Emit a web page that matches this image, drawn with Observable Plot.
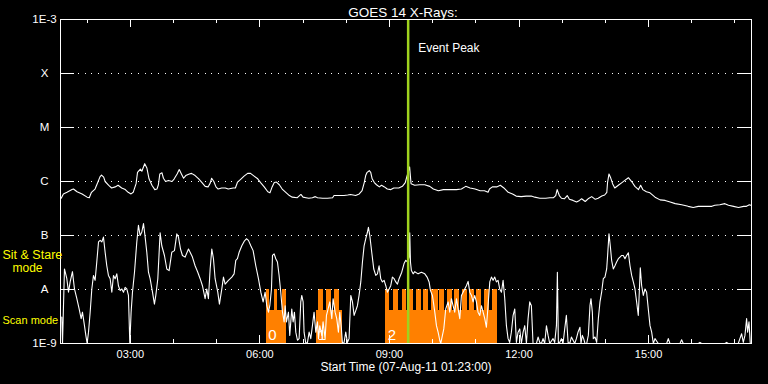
<!DOCTYPE html>
<html><head><meta charset="utf-8">
<script src="https://cdn.jsdelivr.net/npm/d3@7"></script>
<script src="https://cdn.jsdelivr.net/npm/@observablehq/plot@0.6"></script>
<style>
html,body{margin:0;padding:0;background:#000;}
#chart svg{display:block;}
</style></head><body><div id="chart"></div>
<script>
// ---- data ----
const title = "GOES 14 X-Rays:";
const xLabel = "Start Time (07-Aug-11 01:23:00)";
const startTime = "2011-08-07T01:23:00Z";
const endTime = "2011-08-07T17:23:00Z";
const peakTime = "2011-08-07T09:26:00Z";
const peakLabel = "Event Peak";
const classLabels = ["1E-9", "A", "B", "C", "M", "X", "1E-3"];
const classFlux = [1e-9, 1e-8, 1e-7, 1e-6, 1e-5, 1e-4, 1e-3];

// long channel (1-8 Å): minutes after start, log10 flux (W/m²)
const longMinutes = [1,4,9,16,18,23,30,37,40,43,48,52,55,57,60,62,67,71,76,80,85,90,94,98,101,105,107,111,113,117,120,123,127,131,134,136,138,141,143,146,150,155,158,162,165,168,171,174,179,182,187,192,196,201,205,208,210,213,216,219,224,229,233,240,243,246,251,255,260,264,269,274,278,283,288,291,294,297,300,304,308,313,318,322,329,334,337,341,345,350,354,357,364,371,378,380,387,394,399,403,410,415,419,422,424,426,429,431,433,436,439,443,446,450,454,459,463,470,475,479,481,485,487,492,499,506,513,518,525,532,541,550,557,563,569,576,583,589,594,596,600,606,611,616,622,628,633,640,647,654,659,666,674,680,685,688,690,693,696,700,704,707,712,717,721,724,729,733,738,743,747,752,756,759,760,762,764,767,770,775,780,784,789,794,798,803,806,809,814,819,826,833,840,847,854,863,872,879,886,895,905,909,916,923,928,935,942,949,953,957,959];
const longLog = [-6.31,-6.23,-6.20,-6.15,-6.14,-6.19,-6.23,-6.29,-6.30,-6.20,-6.14,-6.01,-5.91,-5.88,-5.92,-6.00,-6.07,-6.12,-6.10,-6.07,-6.12,-6.15,-6.20,-6.23,-6.20,-6.04,-5.83,-5.77,-5.81,-5.67,-5.75,-5.95,-6.07,-6.15,-6.14,-6.06,-5.86,-5.84,-5.94,-6.00,-5.98,-6.00,-5.95,-5.86,-5.78,-5.86,-5.94,-5.89,-5.86,-5.85,-5.89,-5.95,-6.01,-6.09,-6.10,-6.03,-5.94,-6.00,-6.10,-6.14,-6.12,-6.12,-6.14,-6.12,-6.12,-6.01,-5.95,-5.90,-5.85,-5.85,-5.90,-5.95,-6.02,-6.10,-6.19,-6.21,-6.10,-6.02,-6.01,-6.06,-6.14,-6.20,-6.26,-6.29,-6.30,-6.24,-6.29,-6.30,-6.31,-6.30,-6.28,-6.30,-6.31,-6.31,-6.30,-6.26,-6.26,-6.26,-6.25,-6.24,-6.26,-6.23,-6.17,-6.02,-5.89,-5.83,-5.80,-5.83,-5.95,-6.02,-6.06,-6.10,-6.07,-6.10,-6.14,-6.15,-6.12,-6.12,-6.09,-6.02,-5.92,-5.73,-6.04,-6.07,-6.06,-6.06,-6.09,-6.14,-6.17,-6.15,-6.15,-6.15,-6.14,-6.09,-6.12,-6.14,-6.17,-6.17,-6.20,-6.14,-6.10,-6.10,-6.07,-6.12,-6.20,-6.23,-6.27,-6.28,-6.27,-6.27,-6.29,-6.31,-6.31,-6.30,-6.30,-6.26,-6.15,-6.26,-6.31,-6.32,-6.26,-6.33,-6.35,-6.38,-6.35,-6.32,-6.37,-6.32,-6.28,-6.33,-6.31,-6.27,-6.25,-6.20,-6.02,-5.86,-5.92,-6.04,-6.12,-6.07,-6.02,-5.98,-5.93,-6.01,-6.09,-6.15,-6.07,-6.15,-6.19,-6.21,-6.29,-6.34,-6.35,-6.38,-6.41,-6.43,-6.46,-6.48,-6.46,-6.46,-6.46,-6.44,-6.43,-6.41,-6.44,-6.46,-6.48,-6.46,-6.46,-6.43,-6.44];

// short channel (0.5-4 Å): minutes after start, log10 flux (W/m²)
const shortMinutes = [1.8,2.8,5.5,8.8,11.1,13.4,16.6,19.4,22.7,25.9,28.7,30.5,33.3,35.2,37.0,38.9,41.2,43.5,45.8,48.1,50.4,52.8,55.1,57.4,59.7,62.0,64.3,66.6,69.0,71.3,73.6,75.9,78.2,80.5,82.9,85.2,87.5,89.8,92.1,94.4,96.3,98.1,100.0,102.8,106.0,108.3,110.6,112.9,115.3,117.6,119.9,122.2,124.5,127.8,130.5,132.4,135.2,138.4,140.7,144.4,147.7,150.9,154.6,158.3,161.6,163.9,166.7,169.4,173.1,177.8,180.1,183.3,187.0,190.7,194.0,197.2,200.9,203.2,205.5,207.9,210.2,212.5,214.8,218.5,220.8,224.1,226.4,228.7,233.3,238.0,241.2,243.5,245.8,248.2,251.9,255.1,258.3,261.1,264.4,267.6,271.3,275.0,278.3,281.5,284.3,286.6,288.9,290.8,293.1,294.5,296.8,299.1,301.4,303.7,306.0,308.4,310.7,312.1,313.9,316.7,318.5,321.3,323.2,325.0,326.9,329.2,331.5,333.8,335.2,337.1,338.4,340.8,343.1,345.4,347.7,350.0,352.3,354.7,357.0,358.4,360.2,363.0,364.8,367.6,369.5,371.8,374.1,376.9,378.7,381.5,383.8,386.1,388.0,390.3,391.7,394.0,396.3,398.6,400.9,403.3,405.6,407.9,410.2,412.5,414.8,417.2,419.5,421.8,424.1,426.4,427.8,429.7,432.4,435.2,438.0,440.3,442.6,444.9,447.2,449.6,451.9,454.2,456.5,458.8,461.1,463.5,465.8,468.1,470.4,474.1,477.3,479.7,482.0,484.5,485.2,486.2,487.5,489.9,492.2,496.8,501.4,506.1,509.3,512.1,514.0,516.7,520.0,522.3,524.6,526.9,528.3,530.6,532.5,535.2,538.5,540.8,543.1,545.4,547.7,550.1,552.4,554.7,557.0,559.3,561.6,563.9,566.3,568.6,570.9,573.2,575.5,577.8,580.1,582.5,584.8,587.1,589.4,591.7,594.0,596.4,598.7,601.0,603.3,605.6,607.9,610.2,612.6,614.9,617.2,619.5,621.8,624.1,626.4,628.8,631.1,633.4,635.7,638.0,640.3,642.7,645.0,647.3,649.6,651.9,654.2,656.5,661.2,663.5,665.8,668.1,670.4,672.7,675.1,677.4,679.7,684.3,686.6,689.0,690.3,691.7,693.6,695.9,698.2,700.5,702.8,705.2,707.5,709.8,714.4,716.7,719.0,721.7,723.1,725.0,726.8,728.7,731.0,733.3,735.6,737.0,738.9,740.2,742.6,744.9,747.2,749.5,751.8,754.1,756.4,758.8,760.1,762.0,763.8,765.7,768.0,770.3,772.6,775.0,777.3,779.6,781.9,784.2,786.5,788.9,791.2,793.5,795.8,798.1,800.4,802.7,804.1,805.5,807.4,809.7,812.0,814.3,816.6,819.0,821.3,823.6,825.9,830.5,842.1,844.4,846.7,860.6,862.9,865.2,886.1,888.4,890.7,923.1,925.4,927.7,941.6,943.9,946.3,948.6,950.9,953.2,954.6,956.5,958.3];
const shortLog = [-8.51,-9.00,-7.62,-7.80,-8.05,-7.86,-7.67,-7.99,-8.17,-8.36,-8.54,-8.42,-8.67,-8.85,-9.00,-8.79,-8.42,-7.99,-7.74,-7.83,-7.49,-7.12,-7.09,-7.12,-7.03,-7.31,-7.56,-7.74,-7.80,-8.05,-7.74,-7.80,-7.71,-7.93,-8.02,-7.99,-8.05,-7.96,-7.99,-8.11,-9.00,-8.42,-8.05,-7.68,-7.12,-6.81,-7.00,-6.94,-6.78,-7.03,-7.31,-7.68,-7.80,-8.05,-8.27,-8.11,-7.80,-6.95,-7.19,-7.37,-7.62,-7.65,-7.31,-7.28,-6.97,-7.03,-7.25,-7.37,-7.40,-7.25,-7.31,-7.40,-7.56,-7.68,-7.80,-7.93,-8.17,-7.99,-8.17,-7.62,-7.25,-7.43,-7.80,-8.05,-8.27,-7.99,-7.77,-7.90,-7.83,-7.77,-7.71,-7.46,-7.43,-7.31,-7.19,-7.11,-7.06,-7.09,-7.19,-7.28,-7.56,-7.80,-8.05,-8.23,-8.05,-8.30,-8.42,-8.30,-7.99,-7.37,-7.34,-7.43,-7.49,-7.74,-8.05,-8.42,-8.60,-8.30,-8.60,-8.42,-8.85,-8.36,-8.60,-8.42,-8.79,-8.94,-8.91,-8.23,-8.11,-8.23,-8.79,-9.00,-8.98,-8.79,-8.91,-8.67,-8.42,-8.79,-8.60,-8.91,-8.67,-8.85,-8.60,-8.91,-8.48,-8.36,-8.23,-8.54,-8.17,-8.42,-8.54,-8.79,-8.42,-8.73,-9.00,-8.98,-8.79,-8.98,-8.91,-8.11,-8.23,-8.48,-8.39,-8.30,-8.11,-7.86,-7.49,-7.19,-7.06,-6.94,-6.85,-7.00,-7.31,-7.62,-7.74,-7.71,-7.56,-7.80,-7.86,-7.83,-7.93,-8.05,-7.99,-7.93,-7.77,-7.80,-7.86,-7.90,-7.80,-7.68,-7.52,-7.46,-7.49,-7.40,-6.95,-7.49,-7.65,-7.71,-7.67,-7.71,-7.68,-7.71,-7.77,-7.86,-8.02,-8.11,-8.42,-8.67,-8.79,-8.94,-9.00,-8.85,-8.73,-8.36,-8.23,-8.42,-8.17,-8.30,-8.42,-8.17,-8.36,-8.54,-8.11,-8.05,-7.99,-7.93,-7.85,-8.05,-8.11,-8.23,-8.11,-8.23,-8.42,-8.48,-8.30,-8.42,-8.54,-8.70,-8.30,-7.86,-7.77,-7.83,-7.77,-7.86,-7.83,-7.99,-8.05,-7.83,-8.17,-8.67,-8.91,-8.98,-8.79,-8.48,-8.36,-8.98,-8.79,-8.73,-9.00,-8.79,-8.67,-9.00,-8.54,-8.23,-8.30,-9.00,-9.00,-8.88,-8.98,-9.00,-8.91,-9.00,-8.67,-8.85,-9.00,-8.91,-8.98,-8.67,-7.68,-9.00,-8.98,-8.91,-9.00,-8.73,-8.48,-8.98,-9.00,-8.88,-9.00,-8.91,-8.79,-8.70,-9.00,-8.85,-8.91,-9.00,-9.00,-8.85,-8.30,-8.17,-8.42,-8.91,-8.88,-8.98,-8.54,-8.23,-8.05,-7.80,-7.77,-7.62,-7.37,-6.97,-7.19,-7.46,-7.62,-7.56,-7.49,-7.43,-7.40,-7.37,-7.37,-7.43,-7.37,-7.32,-7.56,-7.74,-7.86,-7.99,-8.23,-8.48,-8.05,-7.60,-7.93,-8.11,-7.99,-8.05,-8.36,-8.67,-8.79,-9.00,-8.91,-9.00,-9.00,-8.91,-9.00,-9.00,-8.93,-9.00,-9.00,-8.98,-9.00,-9.00,-8.98,-9.00,-9.00,-8.91,-8.82,-8.98,-8.85,-8.54,-8.79,-8.60,-9.00];

// observing modes: raster index, start/end (minutes after start)
const rasterIndex = ["0", "1", "2"];
const rasterStart = [286, 355, 452];
const rasterEnd = [314, 392, 607];
// sit & stare intervals (minutes after start)
const stareStart = [286, 297, 308, 358, 369, 381, 452, 462, 475, 485, 494, 505, 515, 527, 537, 548, 558, 568, 578.5, 589, 600];
const stareEnd   = [291, 302, 314, 365, 376, 387, 457, 469.5, 481, 490, 501, 511, 524.5, 534, 544.5, 554.5, 565, 575.5, 585.5, 596, 607];
const scanFlux = 4.1e-9;   // mode indicator level, scan
const stareFlux = 1e-8;    // mode indicator level, sit & stare
const modeLabels = ["Sit & Stare", "mode", "Scan mode"];

// ---- build tables ----
const t0 = new Date(startTime), t1 = new Date(endTime);
const at = m => new Date(+t0 + m * 60000);
const longData = longMinutes.map((m, i) => ({time: at(m), flux: 10 ** longLog[i]}));
const shortData = shortMinutes.map((m, i) => ({time: at(m), flux: 10 ** shortLog[i]}));
const rasters = rasterIndex.map((k, i) => ({k, x1: at(rasterStart[i]), x2: at(rasterEnd[i]), y1: 1e-9, y2: scanFlux}));
const stares = stareStart.map((s, i) => ({x1: at(s), x2: at(stareEnd[i]), y1: 1e-9, y2: stareFlux}));
const classes = classLabels.map((label, i) => ({label, flux: classFlux[i]}));
const inner = classes.slice(1, -1);
const hours = d3.utcHour.range(d3.utcHour.ceil(t0), t1);
const major = hours.filter(d => d.getUTCHours() % 3 === 0);
const minor = hours.filter(d => d.getUTCHours() % 3 !== 0);
const fmt = d3.utcFormat("%H:%M");

const W = 768, H = 384, mL = 60, mR = 17, mT = 19, mB = 41;
const fw = W - mL - mR, fh = H - mT - mB;
const white = "#ffffff", yellow = "#ffff00", orange = "#ff8000", green = "#9fd21e";
const font = "'Liberation Sans', Arial, sans-serif";
const crisp = {shapeRendering: "crispEdges"};

const chart = Plot.plot({
  width: W, height: H,
  marginLeft: mL, marginRight: mR, marginTop: mT, marginBottom: mB,
  style: {background: "#000", color: white, fontFamily: font},
  x: {type: "utc", domain: [t0, t1], axis: null},
  y: {type: "log", domain: [1e-9, 1e-3], axis: null},
  marks: [
    Plot.rect(rasters, {x1: "x1", x2: "x2", y1: "y1", y2: "y2", fill: orange, inset: 0, ...crisp}),
    Plot.rect(stares, {x1: "x1", x2: "x2", y1: "y1", y2: "y2", fill: orange, inset: 0, ...crisp}),
    Plot.text(rasters, {x: "x1", y: "y1", text: "k", dx: 2, dy: -4, textAnchor: "start", lineAnchor: "bottom", fontSize: 15, fill: white}),
    Plot.ruleY(inner, {y: "flux", stroke: white, strokeDasharray: "1,5.67", insetLeft: 18, insetRight: 15, ...crisp}),
    Plot.tickY(classes, {y: "flux", stroke: white, insetRight: fw - 14, ...crisp}),
    Plot.tickY(classes, {y: "flux", stroke: white, insetLeft: fw - 14, ...crisp}),
    Plot.tickX(minor, {x: d => d, stroke: white, insetBottom: fh - 4, ...crisp}),
    Plot.tickX(major, {x: d => d, stroke: white, insetBottom: fh - 8, ...crisp}),
    Plot.tickX(minor, {x: d => d, stroke: white, insetTop: fh - 4, ...crisp}),
    Plot.tickX(major, {x: d => d, stroke: white, insetTop: fh - 8, ...crisp}),
    Plot.line(longData, {x: "time", y: "flux", stroke: white, strokeWidth: 1.1}),
    Plot.line(shortData, {x: "time", y: "flux", stroke: white, strokeWidth: 1.1}),
    Plot.ruleX([new Date(peakTime)], {stroke: green, strokeWidth: 2.5}),
    Plot.text([peakLabel], {x: () => new Date(peakTime), frameAnchor: "top", dx: 10, dy: 24, textAnchor: "start", fontSize: 12, fill: white}),
    Plot.frame({stroke: white, ...crisp}),
    Plot.text(classes, {y: "flux", text: "label", frameAnchor: "left", dx: -16, textAnchor: "middle", fontSize: 11.5, fill: white}),
    Plot.text(major, {x: d => d, text: d => fmt(d), frameAnchor: "bottom", dy: 14, fontSize: 11, fill: white}),
    Plot.text([xLabel], {frameAnchor: "bottom", dy: 27, fontSize: 12, fill: white}),
    Plot.text([title], {frameAnchor: "top", dy: -12, dx: -3, fontSize: 13.5, fill: white}),
    Plot.text([modeLabels[0]], {frameAnchor: "bottom-left", dx: -58, dy: -85, textAnchor: "start", fontSize: 12.5, fill: yellow}),
    Plot.text([modeLabels[1]], {frameAnchor: "bottom-left", dx: -48, dy: -72, textAnchor: "start", fontSize: 12, fill: yellow}),
    Plot.text([modeLabels[2]], {frameAnchor: "bottom-left", dx: -58, dy: -20, textAnchor: "start", fontSize: 11, fill: yellow})
  ]
});
document.getElementById("chart").appendChild(chart);
</script></body></html>
